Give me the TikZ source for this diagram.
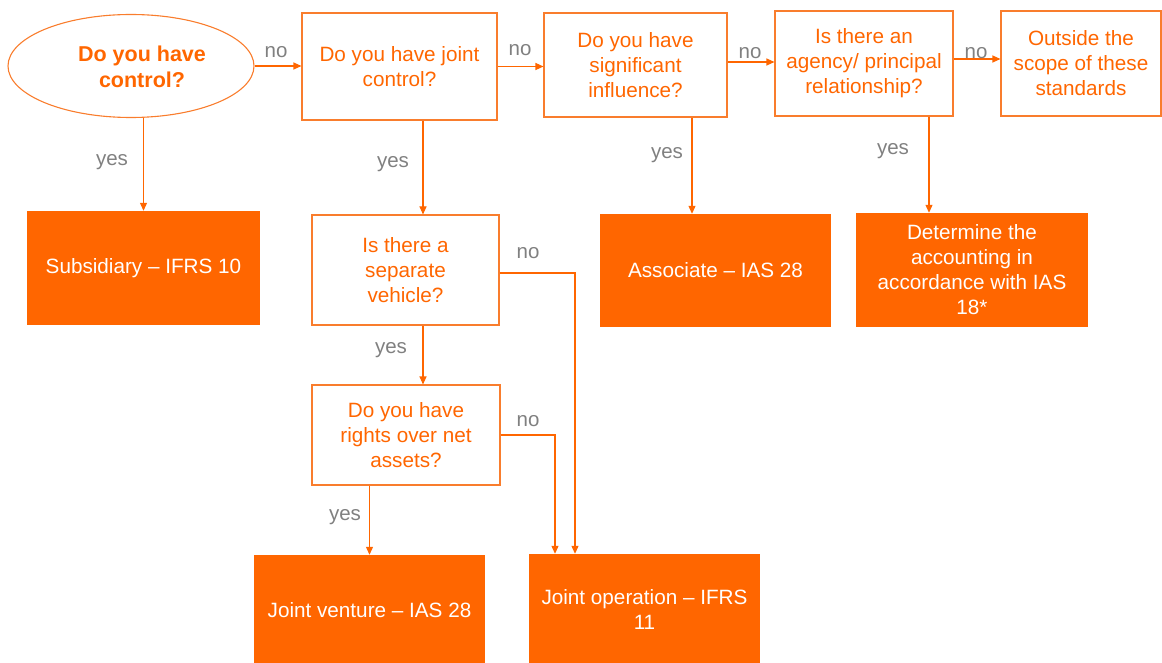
\documentclass[tikz,border=0pt]{standalone}
\usepackage{fontspec}
\setmainfont{Liberation Sans}
\usetikzlibrary{shapes.geometric,arrows.meta}
\definecolor{org}{RGB}{255,102,0}
\definecolor{orgline}{RGB}{249,125,45}
\definecolor{lblgray}{RGB}{128,128,128}
\tikzset{
  qbox/.style={draw=orgline, line width=1.1pt, fill=white, text=org, align=center, inner sep=0pt,
    font=\fontsize{20.7}{25}\selectfont},
  abox/.style={fill=org, text=white, align=center, inner sep=0pt,
    font=\fontsize{20.7}{25}\selectfont},
  lbl/.style={text=lblgray, font=\fontsize{20.5}{24}\selectfont, inner sep=0pt},
  arr/.style={draw=org, line width=1.1pt, -{Triangle[length=8pt,width=7pt]}},
  ln/.style={draw=org, line width=1.1pt}
}
\begin{document}
\begin{tikzpicture}[x=1pt,y=-1pt]
\useasboundingbox (0,0) rectangle (1162,663);
% decision nodes
\node[ellipse, draw=orgline, line width=1.1pt, minimum width=246, minimum height=103, inner sep=0pt] (ctrl) at (131,66) {};
\node[text=org, align=center, font=\fontsize{21.5}{26}\selectfont\bfseries, inner sep=0pt] (ctrlt) at (142,66.5) {Do you have\\control?};
\node[qbox, minimum width=195, minimum height=107] (jc) at (399.5,66.5) {Do you have joint\\control?};
\node[qbox, minimum width=183, minimum height=104] (si) at (635.5,65) {Do you have\\significant\\influence?};
\node[qbox, minimum width=178, minimum height=105] (ag) at (864,63.5) {Is there an\\agency/ principal\\relationship?};
\node[qbox, minimum width=160, minimum height=105] (out) at (1081,63.5) {Outside the\\scope of these\\standards};
\node[qbox, minimum width=187, minimum height=110] (sv) at (405.5,270) {Is there a\\separate\\vehicle?};
\node[qbox, minimum width=188, minimum height=100] (rt) at (406,435) {Do you have\\rights over net\\assets?};
% outcome nodes
\node[abox, minimum width=233, minimum height=114] (sub) at (143.5,268) {Subsidiary -- IFRS 10};
\node[abox, minimum width=231, minimum height=113] (asc) at (715.5,270.5) {Associate -- IAS 28};
\node[abox, minimum width=232, minimum height=114] (det) at (972,270) {Determine the\\accounting in\\accordance with IAS\\18*};
\node[abox, minimum width=231, minimum height=110] (jv) at (369.5,610) {Joint venture -- IAS 28};
\node[abox, minimum width=231, minimum height=111] (jo) at (644.5,609.5) {Joint operation -- IFRS\\11};
% horizontal "no" arrows
\draw[arr] (ctrl.east) -- (ctrl.east -| jc.west);
\draw[arr] (jc.east) -- (jc.east -| si.west);
\draw[arr] ([yshift=3]si.east) -- ([yshift=3]si.east -| ag.west);
\draw[arr] ([yshift=4.5]ag.east) -- ([yshift=4.5]ag.east -| out.west);
% downward "yes" arrows
\draw[arr] (ctrl.south -| sub.north) -- (sub.north);
\draw[arr] ([xshift=23.5]jc.south) -- ([xshift=17.5]sv.north);
\draw[arr] ([xshift=17.5]sv.south) -- ([xshift=17]rt.north);
\draw[arr] (rt.south -| jv.north) -- (jv.north);
\draw[arr] ([xshift=56.5]si.south) -- ([xshift=-23.5]asc.north);
\draw[arr] ([xshift=65]ag.south) -- ([xshift=-43]det.north);
% elbow "no" arrows
\draw[arr] ([yshift=-3]sv.east) -| ([xshift=-69.5]jo.north);
\draw[arr] (rt.east) -| ([xshift=-89.5]jo.north);
% labels
\node[lbl] (l1) at (276,52) {no};
\node[lbl] (l2) at (520,50) {no};
\node[lbl] (l3) at (750,53) {no};
\node[lbl] (l4) at (976,53) {no};
\node[lbl] (l5) at (112,162) {yes};
\node[lbl] (l6) at (393,164) {yes};
\node[lbl] (l7) at (667,155) {yes};
\node[lbl] (l8) at (893,151) {yes};
\node[lbl] (l9) at (391,350) {yes};
\node[lbl] (l10) at (528,253) {no};
\node[lbl] (l11) at (528,421) {no};
\node[lbl] (l12) at (345,517) {yes};
\end{tikzpicture}
\end{document}
